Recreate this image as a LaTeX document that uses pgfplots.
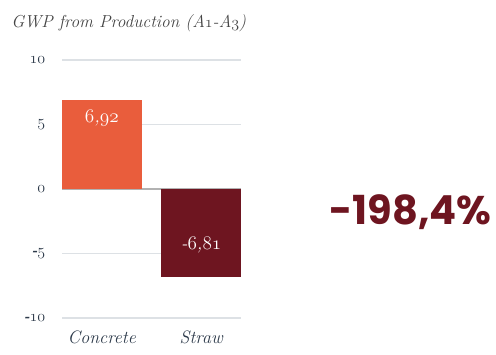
\documentclass[border=0pt]{standalone}
\usepackage{pgfplots}
\pgfplotsset{compat=1.18}
\usepackage{fontspec}
\newfontfamily\bigfont{Poppins}
\definecolor{concrete}{HTML}{E95D3C}
\definecolor{straw}{HTML}{6E1520}
\definecolor{ink}{HTML}{2D3A4A}
\definecolor{titlec}{HTML}{444444}
\definecolor{gridc}{HTML}{DDE1E5}
\newcommand{\os}[1]{\legacyoldstylenums{#1}}
\begin{document}
\begin{tikzpicture}[x=1pt,y=1pt]
\useasboundingbox (0,0) rectangle (372,265.5);
\begin{axis}[
    at={(46.5pt,27pt)}, anchor=south west,
    scale only axis, width=134.25pt, height=193.5pt,
    xmin=-0.4, xmax=1.4, ymin=-10, ymax=10,
    axis line style={draw=none},
    major tick length=0pt,
    ytick={-10,-5,5,10},
    yticklabels={-\os{10},-\os{5},\os{5},\os{10}},
    extra y ticks={0}, extra y tick labels={\os{0}},
    extra y tick style={grid style={draw=gray!60, line width=0.8pt}},
    ymajorgrids, grid style={draw=gridc, line width=0.8pt},
    xtick={0,1}, xticklabels={Concrete,Straw},
    yticklabel style={font=\itshape\fontseries{b}\fontsize{11.5}{13}\selectfont, text=ink, xshift=-9pt},
    xticklabel style={font=\itshape\fontsize{13.5}{15}\selectfont, text=ink, yshift=-6pt},
    clip=false,
]
\addplot[ybar, bar width=0.8, bar shift=0pt, fill=concrete, draw=none,
    nodes near coords={\os{6},\os{92}},
    every node near coord/.append style={anchor=center, yshift=-14pt, text=white,
        font=\itshape\fontsize{14}{16}\selectfont}]
    coordinates {(0,6.92)};
\addplot[ybar, bar width=0.8, bar shift=0pt, fill=straw, draw=none,
    nodes near coords={-\os{6},\os{81}},
    every node near coord/.append style={anchor=center, yshift=24pt, text=white,
        font=\itshape\fontsize{14}{16}\selectfont}]
    coordinates {(1,-6.81)};
\end{axis}
\node[anchor=base west, text=titlec, font=\itshape\fontsize{13}{15}\selectfont]
    at (5,244.5) {GWP from Production (A\os{1}-A\os{3})};
\node[text=straw, font=\bigfont\bfseries\fontsize{30}{36}\selectfont]
    at (308,106.5) {-198,4\%};
\end{tikzpicture}
\end{document}
